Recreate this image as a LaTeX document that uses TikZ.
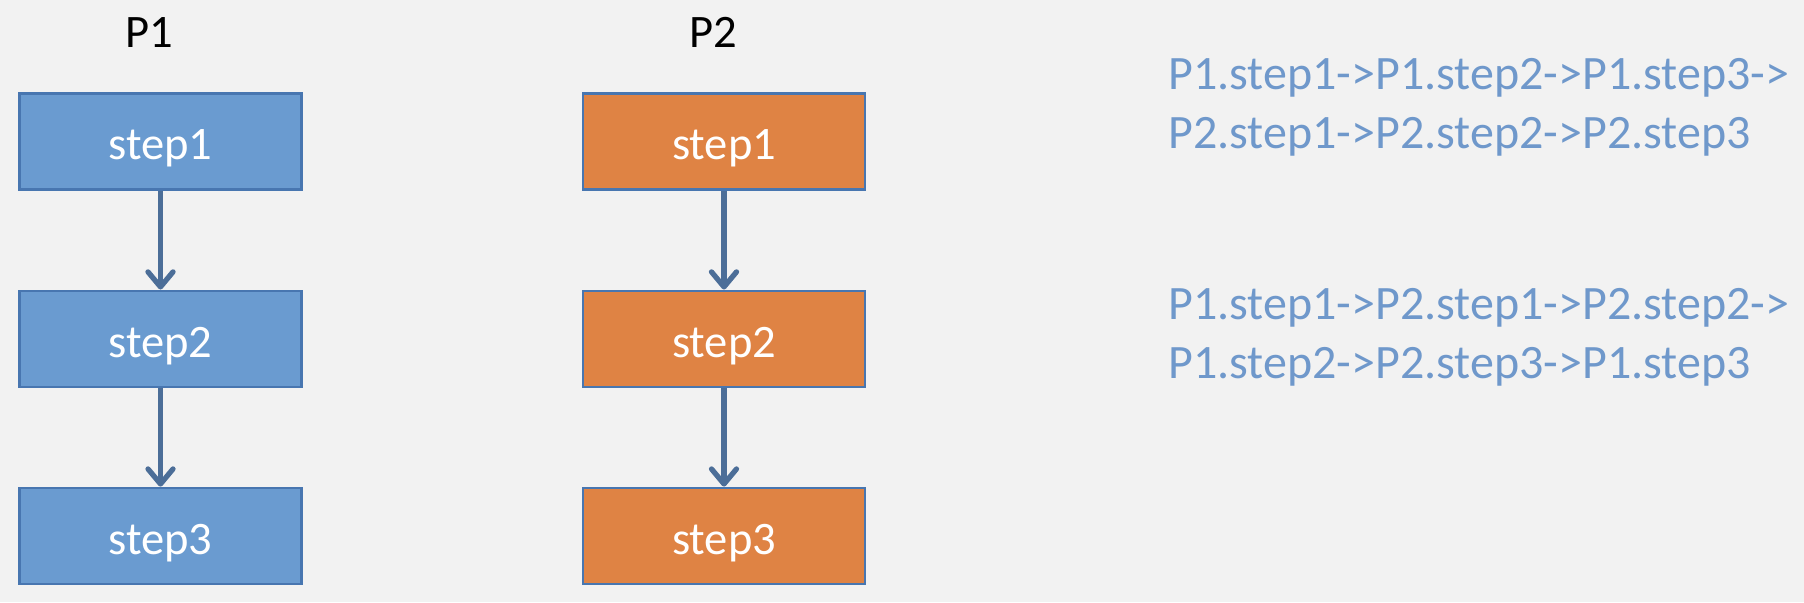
\documentclass[tikz,border=0pt]{standalone}
\usepackage{fontspec}
\setmainfont{Carlito}
\usetikzlibrary{arrows.meta}
\usetikzlibrary{positioning}
\definecolor{bgGray}{RGB}{242,242,242}
\definecolor{boxBlue}{RGB}{106,155,208}
\definecolor{boxOrange}{RGB}{223,131,68}
\definecolor{edgeBlue}{RGB}{72,118,176}
\definecolor{arrowBlue}{RGB}{76,110,152}
\definecolor{orderBlue}{RGB}{111,152,203}
\newcommand{\bigtxt}{\fontsize{26.5}{32.4}\selectfont}
\newcommand{\ordertxt}{\fontsize{27.3}{33.6}\selectfont}

\begin{document}
\begin{tikzpicture}[x=0.02cm,y=-0.02cm]

    % background and margins
    \fill[bgGray] (0,0) rectangle (1804,602);
    \useasboundingbox (0,0) rectangle (1804,602);

    \tikzset{stepbox/.style={draw=edgeBlue,line width=1.2pt,minimum width=5.64cm,minimum height=1.92cm,text=white,font=\bigtxt,text height=21pt,text depth=0pt,node distance=1.98cm}}
    \tikzset{flow/.style={arrowBlue,line width=3pt,-{Straight Barb[length=3mm,width=5mm,round]}}}

    % process P1
    \node[anchor=base,font=\bigtxt] (P1) at (149,47) {P1};
    \node[stepbox,fill=boxBlue] (a1) at (160.5,141.5) {step1};
    \node[stepbox,fill=boxBlue,below=of a1] (a2) {step2};
    \node[stepbox,fill=boxBlue,below=of a2] (a3) {step3};

    % process P2
    \node[anchor=base,font=\bigtxt] (P2) at (713,47) {P2};
    \node[stepbox,fill=boxOrange] (b1) at (724,141.5) {step1};
    \node[stepbox,fill=boxOrange,below=of b1] (b2) {step2};
    \node[stepbox,fill=boxOrange,below=of b2] (b3) {step3};

    \draw[flow] (a1) -- (a2);
    \draw[flow] (a2) -- (a3);
    \draw[flow] (b1) -- (b2);
    \draw[flow] (b2) -- (b3);

    % possible orders
    \node[anchor=north west,inner sep=0pt,align=left,text=orderBlue,font=\ordertxt] (order1) at (1168,58)
        {P1.step1->P1.step2->P1.step3->\\P2.step1->P2.step2->P2.step3};
    \node[anchor=north west,inner sep=0pt,align=left,text=orderBlue,font=\ordertxt] (order2) at (1168,288)
        {P1.step1->P2.step1->P2.step2->\\P1.step2->P2.step3->P1.step3};

\end{tikzpicture}
\end{document}
